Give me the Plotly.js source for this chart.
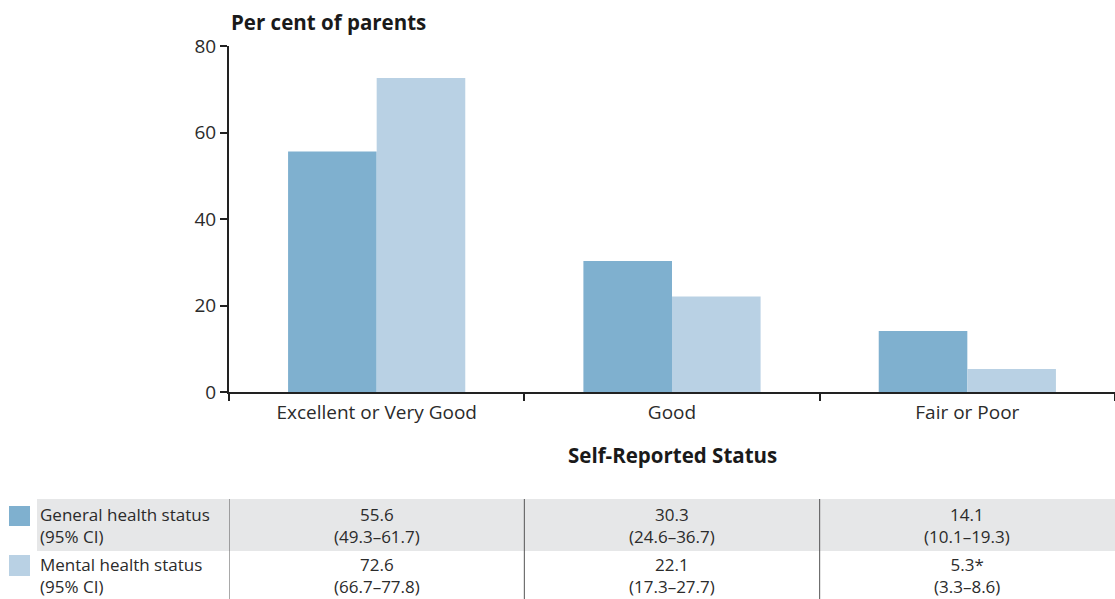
<!DOCTYPE html>
<html>
<head>
<meta charset="utf-8">
<script src="https://cdn.plot.ly/plotly-3.0.1.min.js"></script>
<style>html,body{margin:0;padding:0;background:#fff;}#chart{width:1115px;height:599px;}</style>
</head>
<body>
<div id="chart"></div>
<script>
const categories = ["Excellent or Very Good", "Good", "Fair or Poor"];
const generalValues = [55.6, 30.3, 14.1];
const mentalValues = [72.6, 22.1, 5.3];
const generalCI = ["49.3–61.7", "24.6–36.7", "10.1–19.3"];
const mentalCI = ["66.7–77.8", "17.3–27.7", "3.3–8.6"];
const generalFlags = ["", "", ""];
const mentalFlags = ["", "", "*"];
const seriesNames = ["General health status", "Mental health status"];
const yTicks = [0, 20, 40, 60, 80];

const W = 1115, H = 599;
const L = 229, R = 0, T = 46, B = 207;
const plotW = W - L - R, plotH = H - T - B;
const px = x => (x - L) / plotW;
const py = y => (H - B - y) / plotH;

const colGeneral = "#7fb0cf";
const colMental = "#b9d1e4";
const txt = "#2b2b2b";
const FONT = "'Open Sans', sans-serif";
const TS = 17;
const KS = 19;

const traces = [
  {type: "bar", x: categories, y: generalValues, name: seriesNames[0], marker: {color: colGeneral}},
  {type: "bar", x: categories, y: mentalValues, name: seriesNames[1], marker: {color: colMental}}
];

const shapes = [];
const annotations = [];

shapes.push({type: "rect", xref: "paper", yref: "paper", x0: px(37), x1: 1, y0: py(551), y1: py(499), fillcolor: "#e6e7e8", line: {width: 0}, layer: "below"});
shapes.push({type: "rect", xref: "paper", yref: "paper", x0: px(9), x1: px(30), y0: py(526), y1: py(506), fillcolor: colGeneral, line: {width: 0}});
shapes.push({type: "rect", xref: "paper", yref: "paper", x0: px(9), x1: px(30), y0: py(576), y1: py(555), fillcolor: colMental, line: {width: 0}});
for (let i = 0; i < categories.length; i++) {
  shapes.push({type: "line", xref: "x", yref: "paper", x0: i - 0.5, x1: i - 0.5, y0: py(599), y1: py(499), line: {color: "#555", width: 1}});
}

const rowMid = [525.5, 575.5];
seriesNames.forEach((n, r) => {
  annotations.push({xref: "paper", yref: "paper", x: px(39), y: py(rowMid[r]), text: n + "<br>(95% CI)", align: "left", showarrow: false, xanchor: "left", yanchor: "middle", borderpad: 0, font: {size: TS, color: txt, family: FONT}});
});
const rows = [[generalValues, generalCI, generalFlags], [mentalValues, mentalCI, mentalFlags]];
rows.forEach((row, r) => {
  categories.forEach((c, i) => {
    annotations.push({xref: "x", yref: "paper", x: c, y: py(rowMid[r]), text: row[0][i].toFixed(1) + row[2][i] + "<br>(" + row[1][i] + ")", align: "center", showarrow: false, xanchor: "center", yanchor: "middle", borderpad: 0, font: {size: TS, color: txt, family: FONT}});
  });
});
annotations.push({xref: "paper", yref: "paper", x: px(229), y: py(22), text: "<b>Per cent of parents</b>", showarrow: false, xanchor: "left", yanchor: "middle", font: {size: 20.5, color: "#1a1a1a", family: FONT}});
annotations.push({xref: "paper", yref: "paper", x: 0.5, y: py(455), text: "<b>Self-Reported Status</b>", showarrow: false, xanchor: "center", yanchor: "middle", font: {size: 20.5, color: "#1a1a1a", family: FONT}});

const layout = {
  width: W, height: H,
  margin: {l: L, r: R, t: T, b: B, pad: 0},
  paper_bgcolor: "#fff", plot_bgcolor: "#fff",
  showlegend: false,
  barmode: "group", bargap: 0.4, bargroupgap: 0,
  font: {family: FONT, color: txt, size: KS},
  xaxis: {
    type: "category", range: [-0.5, 2.5], showline: true, linecolor: "#222", linewidth: 2,
    ticks: "outside", tickson: "boundaries", ticklen: 7, tickwidth: 2, tickcolor: "#222",
    ticklabelstandoff: 2,
    showgrid: false, zeroline: false, tickfont: {size: KS, color: txt, family: FONT}, fixedrange: true
  },
  yaxis: {
    range: [0, 80], tickvals: yTicks, ticktext: yTicks.map(String), showline: true, linecolor: "#222", linewidth: 2,
    ticks: "outside", ticklen: 7, tickwidth: 2, tickcolor: "#222", showgrid: false, zeroline: false,
    tickfont: {size: KS, color: txt, family: FONT}, fixedrange: true
  },
  shapes: shapes,
  annotations: annotations,
  hovermode: false
};

Plotly.newPlot("chart", traces, layout, {displayModeBar: false, staticPlot: true});
</script>
</body>
</html>
